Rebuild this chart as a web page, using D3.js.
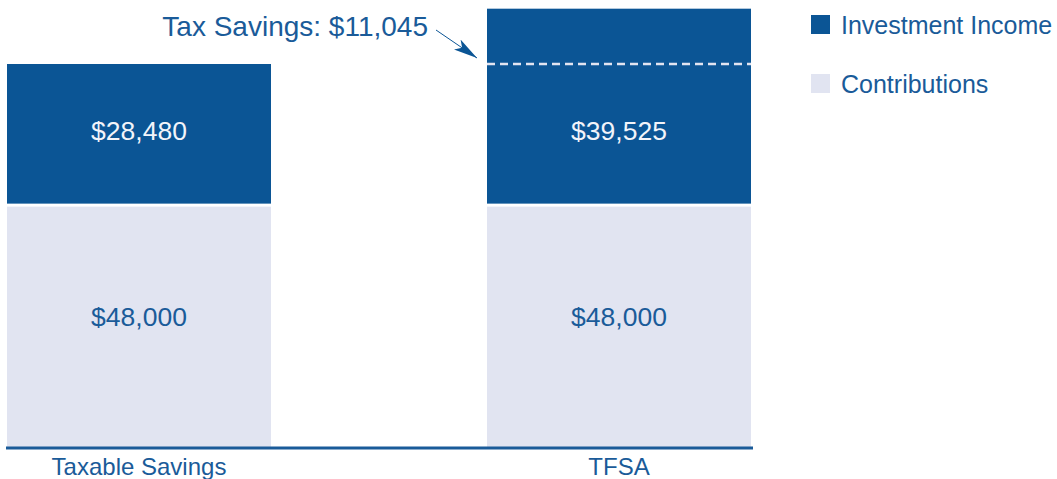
<!DOCTYPE html>
<html>
<head>
<meta charset="utf-8">
<script src="https://cdn.jsdelivr.net/npm/d3@7"></script>
<style>
  body { margin: 0; background: #fff; }
  text { font-family: "Liberation Sans", Arial, sans-serif; }
</style>
</head>
<body>
<div id="chart"></div>
<script>
var categories = ["Taxable Savings", "TFSA"];
var contributions = [48000, 48000];
var investmentIncome = [28480, 39525];
var taxSavings = 11045;
var seriesNames = ["Investment Income", "Contributions"];

var width = 1057, height = 479;
var dark = "#0b5595", light = "#e1e4f1", textBlue = "#1a5b99";
var gap = 3;

var fmt = function(v){ return "$" + d3.format(",")(v); };

var svg = d3.select("#chart")
    .append("svg")
    .attr("width", width)
    .attr("height", height);

var x = d3.scaleBand()
    .domain(categories)
    .range([7, 751])
    .paddingInner(0.45)
    .paddingOuter(0);

var y = d3.scaleLinear()
    .domain([0, 76480])
    .range([447, 64]);

var data = categories.map(function(c, i){
    return {cat: c, contrib: contributions[i], income: investmentIncome[i]};
});

var bars = svg.selectAll(".bar")
    .data(data)
    .enter()
    .append("g")
    .attr("class", "bar");

// contributions
bars.append("rect")
    .attr("x", function(d){ return x(d.cat); })
    .attr("width", x.bandwidth())
    .attr("y", function(d){ return y(d.contrib); })
    .attr("height", function(d){ return y(0) - y(d.contrib); })
    .attr("fill", light);

// investment income
bars.append("rect")
    .attr("x", function(d){ return x(d.cat); })
    .attr("width", x.bandwidth())
    .attr("y", function(d){ return y(d.contrib + d.income); })
    .attr("height", function(d){ return y(d.contrib) - gap - y(d.contrib + d.income); })
    .attr("fill", dark);

// labels
bars.append("text")
    .attr("x", function(d){ return x(d.cat) + x.bandwidth() / 2; })
    .attr("y", function(d){ return (y(d.contrib) + y(0)) / 2 - 10; })
    .attr("dy", "0.35em")
    .attr("text-anchor", "middle")
    .style("font-size", "26.5px")
    .attr("fill", textBlue)
    .text(function(d){ return fmt(d.contrib); });

// income label sits below the tax savings line
bars.append("text")
    .attr("x", function(d){ return x(d.cat) + x.bandwidth() / 2; })
    .attr("y", function(d){
        var base = investmentIncome[0];
        return (y(d.contrib) - gap + y(d.contrib + base)) / 2 - 3;
    })
    .attr("dy", "0.35em")
    .attr("text-anchor", "middle")
    .style("font-size", "26.5px")
    .attr("fill", "#f2f4fa")
    .text(function(d){ return fmt(d.income); });

// dashed line marking the taxable total on the TFSA bar
var tfsa = data[1];
var lineY = y(tfsa.contrib + tfsa.income - taxSavings);
svg.append("line")
    .attr("x1", x(tfsa.cat))
    .attr("x2", x(tfsa.cat) + x.bandwidth())
    .attr("y1", lineY)
    .attr("y2", lineY)
    .attr("stroke", light)
    .attr("stroke-width", 2.5)
    .attr("stroke-dasharray", "8,5");

// annotation
svg.append("defs").append("marker")
    .attr("id", "arrow")
    .attr("viewBox", "0 0 24 12")
    .attr("refX", 24)
    .attr("refY", 6)
    .attr("markerWidth", 24)
    .attr("markerHeight", 12)
    .attr("markerUnits", "userSpaceOnUse")
    .attr("orient", "auto")
    .append("path")
    .attr("d", "M0,0 L24,6 L0,12 L6,6 Z")
    .attr("fill", dark);

svg.append("line")
    .attr("x1", 436)
    .attr("y1", 30)
    .attr("x2", x(tfsa.cat) - 10)
    .attr("y2", lineY - 6)
    .attr("stroke", dark)
    .attr("stroke-width", 1)
    .attr("marker-end", "url(#arrow)");

svg.append("text")
    .attr("x", 428)
    .attr("y", 36)
    .attr("text-anchor", "end")
    .style("font-size", "28px")
    .attr("fill", textBlue)
    .text("Tax Savings: " + fmt(taxSavings));

// axis
var xAxis = d3.axisBottom(x).tickSize(0).tickPadding(0);
var axisG = svg.append("g")
    .attr("class", "x axis")
    .attr("transform", "translate(0," + (y(0) + 1) + ")")
    .call(xAxis);
axisG.select(".domain")
    .attr("d", "M6,0H753")
    .attr("stroke", textBlue)
    .attr("stroke-width", 3);
axisG.selectAll(".tick text")
    .attr("y", 27)
    .attr("dy", 0)
    .style("font-size", "24px")
    .style("font-family", "'Liberation Sans', Arial, sans-serif")
    .attr("fill", textBlue);

// legend
var legend = svg.selectAll(".legend")
    .data(seriesNames)
    .enter()
    .append("g")
    .attr("class", "legend")
    .attr("transform", function(d, i){ return "translate(811," + (15 + i * 59) + ")"; });

legend.append("rect")
    .attr("width", 19)
    .attr("height", 19)
    .attr("fill", function(d, i){ return i === 0 ? dark : light; });

legend.append("text")
    .attr("x", 30)
    .attr("y", 19)
    .style("font-size", "25px")
    .attr("fill", textBlue)
    .text(function(d){ return d; });
</script>
</body>
</html>
